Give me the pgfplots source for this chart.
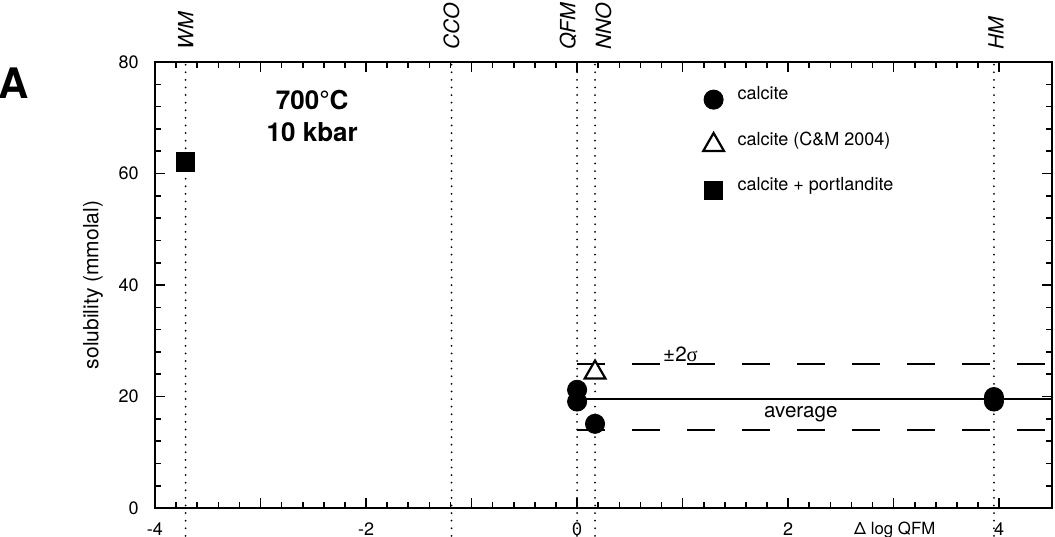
\documentclass[border=0pt]{standalone}
\usepackage{fontspec}
\setmainfont{TeX Gyre Heros}
\newfontfamily\greekserif{Liberation Serif}
\usepackage{pgfplots}
\pgfplotsset{compat=1.18}

% a legend picture whose height does not depend on the mark
\pgfplotsset{
  fixed mark legend/.style={
    legend image code/.code={%
      \begin{pgfinterruptboundingbox}
        \draw[mark repeat=2,mark phase=2,##1]
          plot coordinates {(0cm,0cm) (0.3cm,0cm) (0.6cm,0cm)};
      \end{pgfinterruptboundingbox}
      \path[draw=none, fill=none] (0cm,-3pt) rectangle (0.6cm,3pt);
    }
  }
}

\begin{document}
\begin{tikzpicture}
\begin{axis}[
  scale only axis,
  width=448.5pt, height=223pt,
  xmin=-4, xmax=4.5, ymin=0, ymax=80,
  axis line style={line width=1pt},
  xtick={-4,-3,...,4},
  xticklabels={-4,,-2,,0,,2,,4},
  ytick={0,20,...,80},
  minor x tick num=4, minor y tick num=4,
  tick align=inside,
  major tick length=5pt, minor tick length=3pt,
  every tick/.style={line width=0.8pt, black},
  /pgf/number format/assume math mode=true,
  tick label style={font=\fontsize{9}{11}\selectfont, inner sep=3pt},
  xticklabel style={yshift=-4.0pt},
  yticklabel style={xshift=-5.0pt},
  ylabel={solubility (mmolal)},
  ylabel style={font=\fontsize{10.5}{12}\selectfont,
    at={(axis description cs:-0.0691,0.5)}, anchor=center},
  clip=false,
  legend cell align=left,
  legend style={at={(axis cs:1.128,74.4)}, anchor=north west,
    draw=none, fill=none, inner sep=0pt,
    font=\fontsize{9}{11}\selectfont,
    row sep=16.7pt, column sep=3.5pt,
    nodes={inner sep=0pt, text height=3pt, text depth=3pt}},
]
\coordinate (o) at (rel axis cs:0,0);

% oxygen buffer reference lines (dotted)
\addplot[forget plot, line width=1pt, line cap=round, dash pattern=on 0pt off 3.8pt]
  coordinates {(-3.71,-5) (-3.71,80)};
\addplot[forget plot, line width=1pt, line cap=round, dash pattern=on 0pt off 3.8pt]
  coordinates {(-1.19,-5) (-1.19,80)};
\addplot[forget plot, line width=1pt, line cap=round, dash pattern=on 0pt off 3.8pt]
  coordinates {(0,-5) (0,80)};
\addplot[forget plot, line width=1pt, line cap=round, dash pattern=on 0pt off 3.8pt]
  coordinates {(0.17,-5) (0.17,80)};
\addplot[forget plot, line width=1pt, line cap=round, dash pattern=on 0pt off 3.8pt]
  coordinates {(3.95,-5) (3.95,80)};

% average and +/- 2 sigma band
\addplot[forget plot, line width=0.8pt, dash pattern=on 13.75pt off 13.75pt]
  coordinates {(0,25.8) (4.5,25.8)};
\addplot[forget plot, line width=0.8pt, dash pattern=on 13.75pt off 13.75pt]
  coordinates {(0,14.0) (4.5,14.0)};
\addplot[forget plot, line width=1.1pt]
  coordinates {(0,19.55) (4.5,19.55)};

% measurements
\addplot[only marks, mark=*, mark size=4.8pt, black, fixed mark legend]
  coordinates {(0,21.2) (0,19.1) (0.17,15.1) (3.95,19.1) (3.95,19.9)};
\addlegendentry{calcite}
\addplot[only marks, mark=triangle*, mark size=6pt, black,
  mark options={fill=white, draw=black, line width=1.1pt}, fixed mark legend]
  coordinates {(0.17,24.3)};
\addlegendentry{calcite (C\&M 2004)}
\addplot[only marks, mark=square*, mark size=4.6pt, black, fixed mark legend]
  coordinates {(-3.71,62.1)};
\addlegendentry{calcite + portlandite}

% annotations
\node[font=\bfseries\fontsize{13}{16}\selectfont, align=center]
  at (axis cs:-2.51,70.3) {700°C\\10 kbar};
\node[anchor=base, font=\fontsize{10.3}{12}\selectfont]
  at (axis cs:0.98,26.24) {±2{\greekserif σ}};
\node[anchor=base, font=\fontsize{10.3}{12}\selectfont]
  at (axis cs:2.12,16.3) {average};
\node[anchor=base, font=\fontsize{8.4}{10}\selectfont]
  at ([yshift=-13.4pt]axis cs:3.01,0) {Δ log QFM};

% buffer names above the frame
\tikzset{buffer/.style={rotate=90, anchor=west, inner sep=0pt,
  font=\itshape\fontsize{10.5}{12}\selectfont}}
\node[buffer] at ([yshift=6pt]axis cs:-3.71,80) {WM};
\node[buffer] at ([yshift=6pt]axis cs:-1.19,80) {CCO};
\node[buffer] at ([yshift=6pt]axis cs:-0.085,80) {QFM};
\node[buffer] at ([yshift=6pt]axis cs:0.25,80) {NNO};
\node[buffer] at ([yshift=6pt]axis cs:3.97,80) {HM};
\end{axis}

\node[font=\bfseries\fontsize{21}{24}\selectfont] at ([shift={(-70.5pt,212.5pt)}]o) {A};

\pgfresetboundingbox
\path ([shift={(-77.5pt,-14pt)}]o) rectangle ([shift={(450pt,254pt)}]o);
\end{tikzpicture}
\end{document}
